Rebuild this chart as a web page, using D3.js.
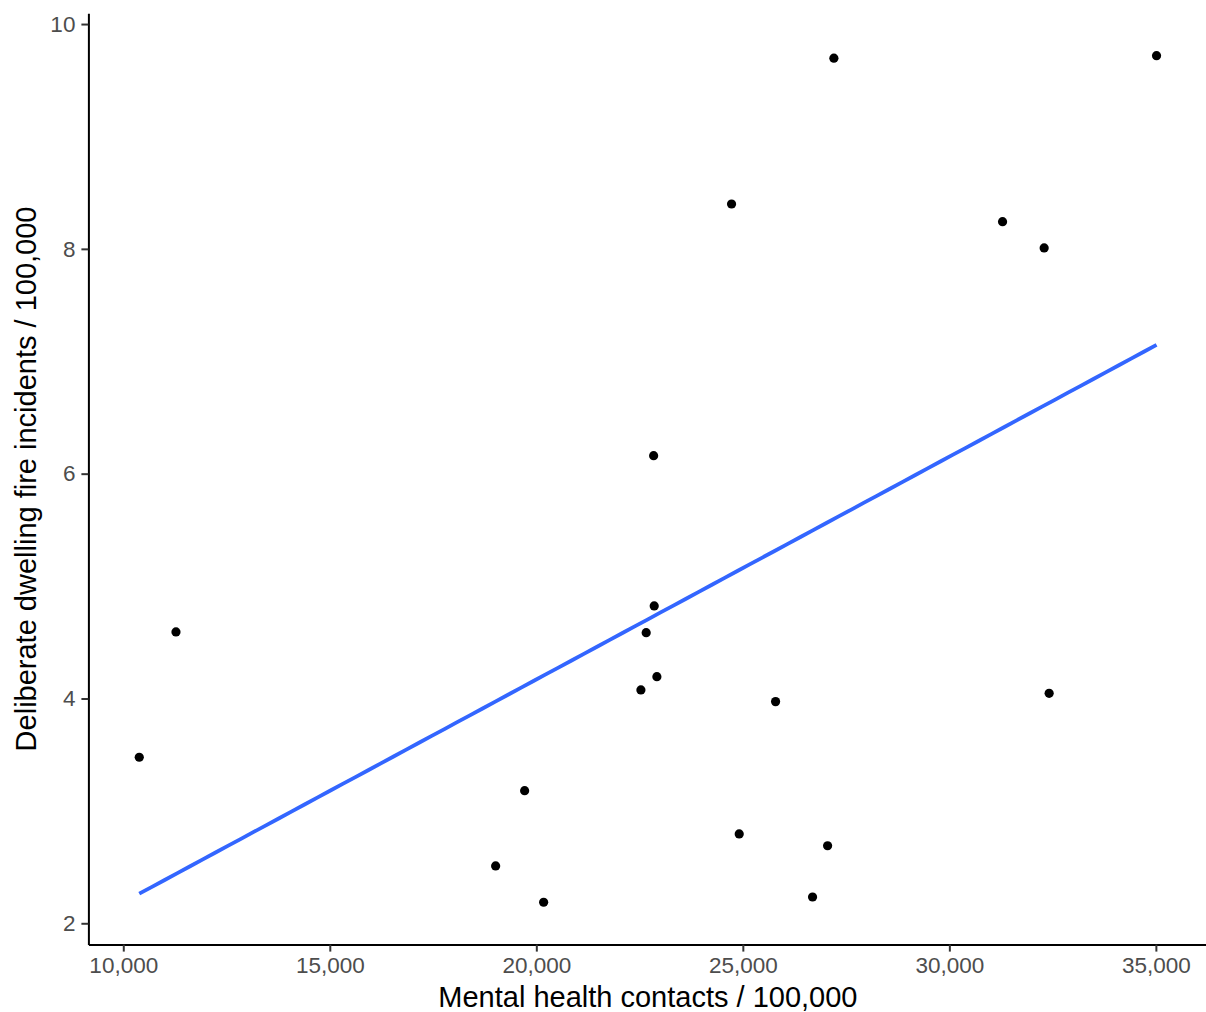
<!DOCTYPE html>
<html>
<head>
<meta charset="utf-8">
<script src="https://cdn.jsdelivr.net/npm/d3@7"></script>
<style>
  html, body { margin: 0; padding: 0; background: #fff; }
  svg { display: block; }
  text { font-family: "Liberation Sans", Arial, Helvetica, sans-serif; }
</style>
</head>
<body>
<svg id="chart" width="1206" height="1012"></svg>
<script>
// Mental health contacts per 100,000 (x) against deliberate dwelling fire incidents per 100,000 (y)
const contacts = [10387, 11276, 19717, 19015, 20177, 24912, 27052, 26688, 22840, 22854,
                  22660, 22919, 22532, 25793, 27204, 35016, 24727, 31288, 32295, 32416];
const fires    = [3.477, 4.592, 3.180, 2.510, 2.187, 2.795, 2.690, 2.234, 6.160, 4.823,
                  4.585, 4.194, 4.076, 3.972, 9.696, 9.719, 8.399, 8.242, 8.008, 4.046];
const xTicks = [10000, 15000, 20000, 25000, 30000, 35000];
const yTicks = [2, 4, 6, 8, 10];
const xTitle = "Mental health contacts / 100,000";
const yTitle = "Deliberate dwelling fire incidents / 100,000";

const points = contacts.map((c, i) => ({ x: c, y: fires[i] }));

const panel = { left: 88.4, right: 1207.4, top: 13.3, bottom: 944.6 };

// Data extent padded by 5% on each side
function expand(ext) {
  const pad = (ext[1] - ext[0]) * 0.05;
  return [ext[0] - pad, ext[1] + pad];
}

const x = d3.scaleLinear().domain(expand(d3.extent(contacts))).range([panel.left, panel.right]);
const y = d3.scaleLinear().domain(expand(d3.extent(fires))).range([panel.bottom, panel.top]);

const svg = d3.select("#chart");

// Ordinary least-squares fit
const mx = d3.mean(contacts), my = d3.mean(fires);
let sxy = 0, sxx = 0;
points.forEach(p => { sxy += (p.x - mx) * (p.y - my); sxx += (p.x - mx) ** 2; });
const slope = sxy / sxx;
const intercept = my - slope * mx;
const xExt = d3.extent(contacts);
const fit = d3.range(0, 81).map(i => {
  const xv = xExt[0] + (xExt[1] - xExt[0]) * i / 80;
  return { x: xv, y: intercept + slope * xv };
});

// Points
svg.append("g")
  .selectAll("circle")
  .data(points)
  .join("circle")
  .attr("cx", d => x(d.x))
  .attr("cy", d => y(d.y))
  .attr("r", 4.6)
  .attr("fill", "#000");

// Fitted line
svg.append("path")
  .datum(fit)
  .attr("fill", "none")
  .attr("stroke", "#3366FF")
  .attr("stroke-width", 3.8)
  .attr("d", d3.line().x(d => x(d.x)).y(d => y(d.y)));

// Axes
const xAxis = svg.append("g")
  .attr("transform", `translate(0,${panel.bottom})`)
  .call(d3.axisBottom(x).tickValues(xTicks).tickFormat(d3.format(",")).tickSizeInner(7).tickSizeOuter(0).tickPadding(5));

const yAxis = svg.append("g")
  .attr("transform", `translate(${panel.left},0)`)
  .call(d3.axisLeft(y).tickValues(yTicks).tickFormat(d3.format("d")).tickSizeInner(7).tickSizeOuter(0).tickPadding(6));

[xAxis, yAxis].forEach(g => {
  g.select(".domain").attr("stroke", "#000").attr("stroke-width", 2);
  g.selectAll(".tick line").attr("stroke", "#333").attr("stroke-width", 2);
  g.selectAll(".tick text")
    .attr("fill", "#4D4D4D")
    .style("font-size", "22.5px")
    .style("font-family", "'Liberation Sans', Arial, sans-serif");
});

// Axis titles
svg.append("text")
  .attr("x", (panel.left + panel.right) / 2)
  .attr("y", 1007)
  .attr("text-anchor", "middle")
  .attr("fill", "#000")
  .style("font-size", "29px")
  .text(xTitle);

svg.append("text")
  .attr("transform", `translate(36,${(panel.top + panel.bottom) / 2}) rotate(-90)`)
  .attr("text-anchor", "middle")
  .attr("fill", "#000")
  .style("font-size", "29px")
  .text(yTitle);
</script>
</body>
</html>
